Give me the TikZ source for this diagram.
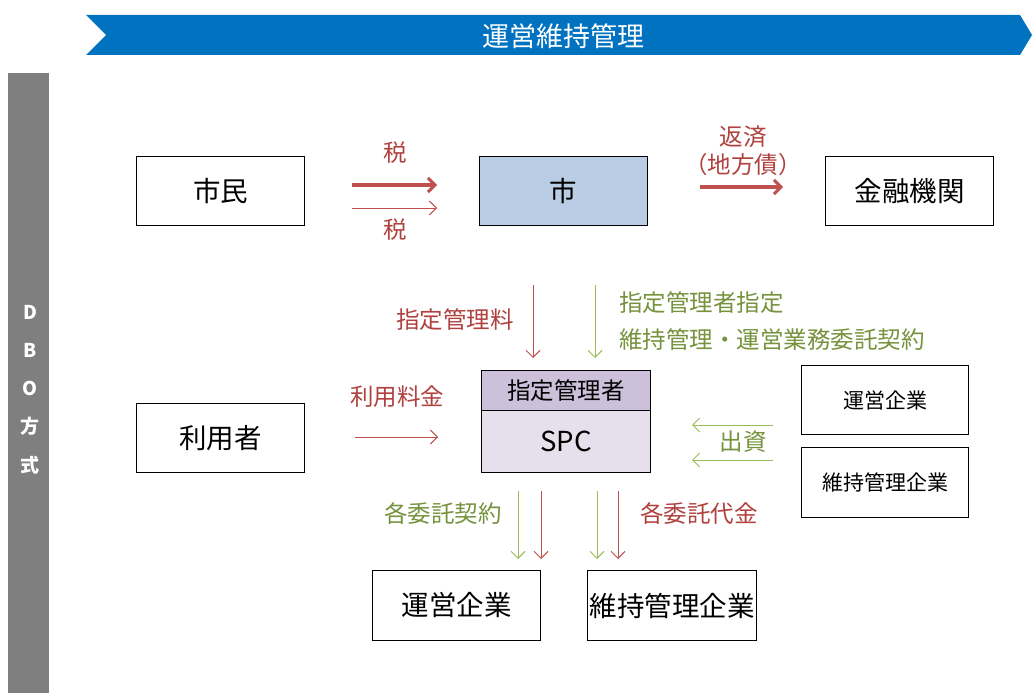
\documentclass[tikz,border=0pt]{standalone}
\usepackage{fontspec}
\setmainfont{Noto Sans CJK JP}
\usetikzlibrary{arrows.meta}
\definecolor{bannerblue}{RGB}{0,114,192}
\definecolor{bargray}{RGB}{127,127,127}
\definecolor{cityblue}{RGB}{185,205,229}
\definecolor{purpA}{RGB}{204,192,218}
\definecolor{purpB}{RGB}{230,224,236}
\definecolor{redA}{RGB}{192,80,77}
\definecolor{redT}{RGB}{175,65,62}
\definecolor{greenA}{RGB}{155,187,89}
\definecolor{greenT}{RGB}{118,146,60}
\tikzset{
  box/.style={draw=black, line width=1pt, fill=white, inner sep=0pt, anchor=north west},
  bigtxt/.style={font=\fontsize{27.5}{30}\selectfont},
  smalltxt/.style={font=\fontsize{21}{24}\selectfont},
  lbl/.style={font=\fontsize{23.5}{26}\selectfont, inner sep=0pt},
  thickred/.style={draw=redA, line width=4pt, -{Straight Barb[length=7pt,width=14pt,line width=3pt]}},
  thinred/.style={draw=redA, line width=1pt, -{Straight Barb[length=7pt,width=14pt]}},
  thingreen/.style={draw=greenA, line width=1pt, -{Straight Barb[length=7pt,width=14pt]}},
}
\begin{document}
\begin{tikzpicture}[x=1pt,y=-1pt]
\useasboundingbox (0,0) rectangle (1032,693);
\fill[white] (0,0) rectangle (1032,693);
% banner
\fill[bannerblue] (86,15) -- (1020,15) -- (1032,35) -- (1020,55) -- (86,55) -- (106,35) -- cycle;
\node[text=white, font=\fontsize{27}{30}\selectfont] (banner) at (563,36) {運営維持管理};
% side bar
\fill[bargray] (8,73) rectangle (49,693);
\foreach \t/\yy in {D/312,B/350,O/388,方/426,式/465}
  \node[text=white, font=\fontsize{19}{22}\bfseries] at (30,\yy) {\t};
% boxes
\node[box, minimum width=168pt, minimum height=69pt, bigtxt] (shimin) at (136,156) {市民};
\node[box, minimum width=168pt, minimum height=69pt, bigtxt, fill=cityblue] (shi) at (479,156) {市};
\node[box, minimum width=168pt, minimum height=69pt, bigtxt] (kinyu) at (825,156) {金融機関};
\node[box, minimum width=168pt, minimum height=69pt, bigtxt] (riyo) at (136,403) {利用者};
\node[box, minimum width=169pt, minimum height=40pt, fill=purpA, font=\fontsize{23.5}{26}\selectfont] (shitei) at (481,370) {指定管理者};
\node[box, minimum width=169pt, minimum height=62pt, fill=purpB, bigtxt] (spc) at (481,410) {SPC};
\node[box, minimum width=167pt, minimum height=69pt, smalltxt] (uneiR) at (801,365) {運営企業};
\node[box, minimum width=167pt, minimum height=70pt, smalltxt] (ijiR) at (801,447) {維持管理企業};
\node[box, minimum width=168pt, minimum height=70pt, bigtxt] (uneiB) at (372,570) {運営企業};
\node[box, minimum width=169pt, minimum height=70pt, bigtxt] (ijiB) at (587,570) {維持管理企業};
% coordinates for arrows
\coordinate (t1s) at (352,185); \coordinate (t1e) at (437,185);
\coordinate (t2s) at (352,208); \coordinate (t2e) at (437,208);
\coordinate (r1s) at (700,187); \coordinate (r1e) at (783,187);
\coordinate (d1s) at (533,285); \coordinate (d1e) at (533,358);
\coordinate (d2s) at (595,285); \coordinate (d2e) at (595,358);
\coordinate (u1s) at (355,437); \coordinate (u1e) at (438,437);
\coordinate (s1s) at (773,425); \coordinate (s1e) at (692,425);
\coordinate (s2s) at (773,460); \coordinate (s2e) at (692,460);
\coordinate (b1s) at (518,491); \coordinate (b1e) at (518,559);
\coordinate (b2s) at (541,491); \coordinate (b2e) at (541,559);
\coordinate (b3s) at (597,491); \coordinate (b3e) at (597,559);
\coordinate (b4s) at (618,491); \coordinate (b4e) at (618,559);
\draw[thickred] (t1s) -- (t1e);
\draw[thinred] (t2s) -- (t2e);
\draw[thickred] (r1s) -- (r1e);
\draw[thinred] (d1s) -- (d1e);
\draw[thingreen] (d2s) -- (d2e);
\draw[thinred] (u1s) -- (u1e);
\draw[thingreen] (s1s) -- (s1e);
\draw[thingreen] (s2s) -- (s2e);
\draw[thingreen] (b1s) -- (b1e);
\draw[thinred] (b2s) -- (b2e);
\draw[thingreen] (b3s) -- (b3e);
\draw[thinred] (b4s) -- (b4e);
% labels
\node[lbl, text=redT] (zei1) at (395,153) {税};
\node[lbl, text=redT] (zei2) at (395,230) {税};
\node[lbl, text=redT] (hensai) at (743,137) {返済};
\node[lbl, text=redT] (chiho) at (743,165) {（地方債）};
\node[lbl, text=redT] (shiteiryo) at (455,320) {指定管理料};
\node[lbl, text=greenT, anchor=west] (shiteishitei) at (619,303) {指定管理者指定};
\node[lbl, text=greenT, anchor=west] (keiyaku) at (619,340) {維持管理・運営業務委託契約};
\node[lbl, text=redT] (ryokin) at (397,397) {利用料金};
\node[lbl, text=greenT] (shusshi) at (743,442) {出資};
\node[lbl, text=greenT] (kakukeiyaku) at (443,514) {各委託契約};
\node[lbl, text=redT] (kakudaikin) at (699,514) {各委託代金};
\end{tikzpicture}
\end{document}
